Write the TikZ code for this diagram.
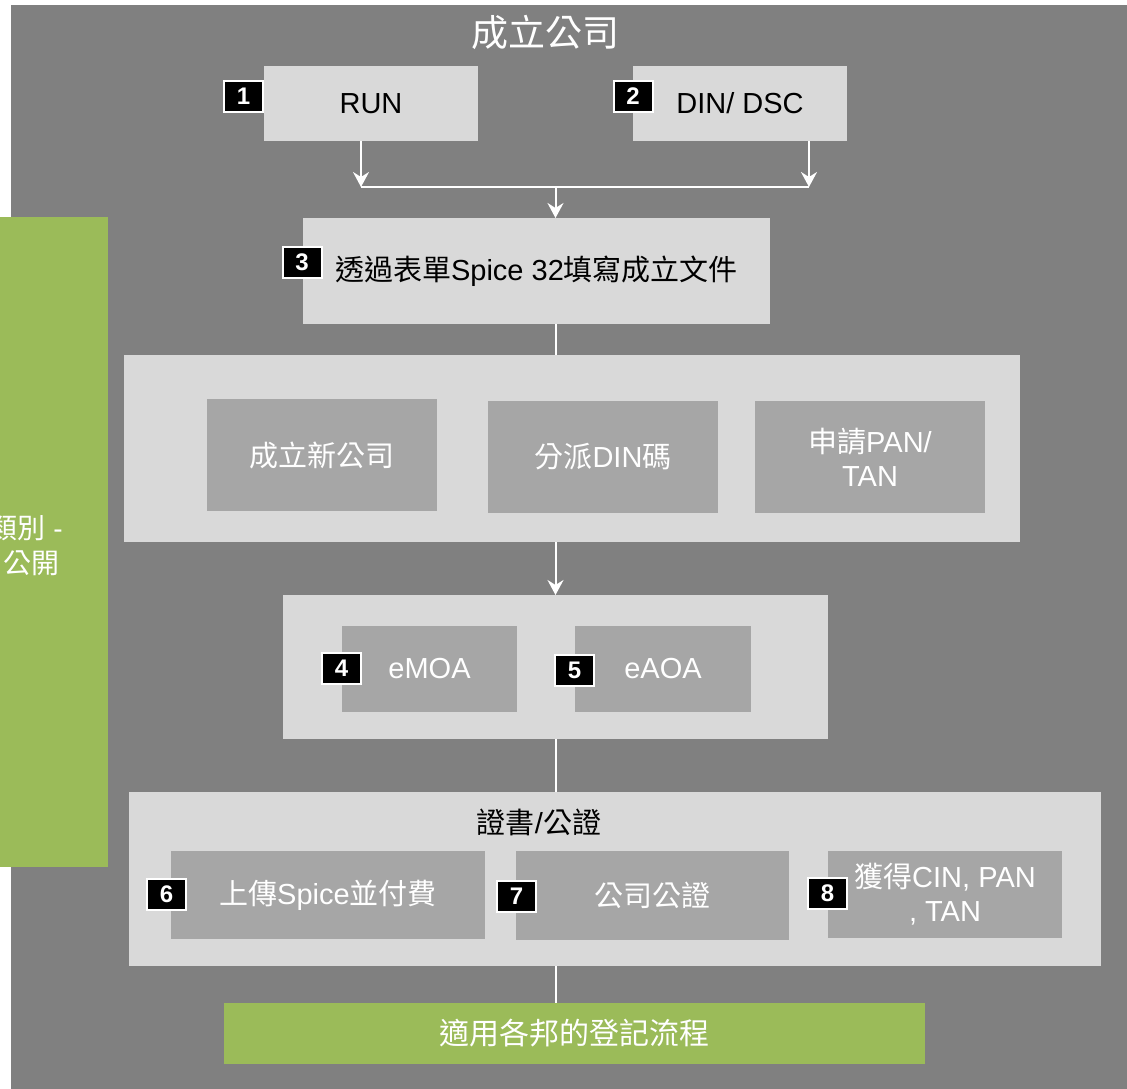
\documentclass[tikz,border=0pt]{standalone}
\usepackage{fontspec}
\setmainfont{Liberation Sans}
\newfontfamily\cjk{Noto Sans CJK TC}
\newcommand\C[1]{{\cjk #1}}
\usetikzlibrary{arrows.meta}
\definecolor{bggray}{HTML}{808080}
\definecolor{lightbox}{HTML}{D9D9D9}
\definecolor{midbox}{HTML}{A6A6A6}
\definecolor{grn}{HTML}{9BBB59}
\begin{document}
\begin{tikzpicture}[x=1pt,y=-1pt,
  lbox/.style={fill=lightbox, inner sep=0pt, outer sep=0pt, text=black, align=center},
  mbox/.style={fill=midbox, inner sep=0pt, outer sep=0pt, text=white, align=center},
  gbox/.style={fill=grn, inner sep=0pt, outer sep=0pt, text=white, align=center},
  badge/.style={fill=black, draw=white, line width=2pt, text=white, inner sep=0pt,
    minimum width=39pt, minimum height=31pt, font=\fontsize{24}{26}\selectfont\bfseries},
  conn/.style={draw=white, line width=2pt},
  arr/.style={conn, -{Stealth[length=15pt,width=16pt,inset=5pt]}},
  txt/.style={font=\fontsize{29}{34}\selectfont}
  ]
\useasboundingbox (0,0) rectangle (1127,1089);
\fill[white] (0,0) rectangle (1127,1089);
\fill[bggray] (11,5) rectangle (1140,1100);

% title
\node[text=white, font=\fontsize{37}{40}\selectfont] (title) at (545,32) {\C{成立公司}};

% left green box
\node[gbox, minimum width=158pt, minimum height=650pt, anchor=north west] (side) at (-50,217) {};
\node[text=white, align=right, inner sep=0pt, anchor=east, font=\fontsize{28}{35}\selectfont] (sidetxt) at (63,545) {\C{類別} -\\\C{公開}\kern3pt};

% step 1 and 2
\node[lbox, txt, minimum width=214pt, minimum height=75pt] (run) at (371,103.5) {RUN};
\node[lbox, txt, minimum width=214pt, minimum height=75pt] (din) at (740,103.5) {DIN/ DSC};
\node[badge] (b1) at (243.5,96.5) {1};
\node[badge] (b2) at (633,96.5) {2};

% step 3
\node[lbox, txt, minimum width=467pt, minimum height=106pt] (s3) at (536.5,271) {\C{透過表單}Spice 32\C{填寫成立文件}};
\node[badge] (b3) at (302,262.5) {3};

% group 1
\node[lbox, minimum width=896pt, minimum height=187pt] (g1) at (572,448.5) {};
\node[mbox, txt, minimum width=230pt, minimum height=112pt] (new) at (322,455) {\C{成立新公司}};
\node[mbox, txt, minimum width=230pt, minimum height=112pt] (assign) at (603,457) {\C{分派}DIN\C{碼}};
\node[mbox, txt, minimum width=230pt, minimum height=112pt] (pan) at (870,457) {\C{申請}PAN/\\TAN};

% group 2
\node[lbox, minimum width=545pt, minimum height=144pt] (g2) at (555.5,667) {};
\node[mbox, txt, minimum width=175pt, minimum height=86pt] (emoa) at (429.5,669) {eMOA};
\node[mbox, txt, minimum width=176pt, minimum height=86pt] (eaoa) at (663,669) {eAOA};
\node[badge] (b4) at (341.5,668) {4};
\node[badge] (b5) at (574.5,670.5) {5};

% group 3
\node[lbox, minimum width=972pt, minimum height=174pt] (g3) at (615,879) {};
\node[text=black, txt] (cert) at (539,822) {\C{證書}/\C{公證}};
\node[mbox, txt, minimum width=314pt, minimum height=88pt] (upload) at (328,895) {\C{上傳}Spice\C{並付費}};
\node[mbox, txt, minimum width=273pt, minimum height=89pt] (notar) at (652.5,895.5) {\C{公司公證}};
\node[mbox, txt, minimum width=234pt, minimum height=87pt] (cin) at (945,894.5) {\C{獲得}CIN, PAN\\, TAN};
\node[badge] (b6) at (166.5,894) {6};
\node[badge] (b7) at (516.5,896.5) {7};
\node[badge] (b8) at (827.5,893.5) {8};

% final
\node[gbox, minimum width=701pt, minimum height=61pt, font=\fontsize{30}{34}\selectfont] (final) at (574.5,1033.5) {\C{適用各邦的登記流程}};

% connectors
\coordinate (a1) at (361,187);
\coordinate (a2) at (809,187);
\coordinate (j) at (555.5,187);
\draw[arr] (a1 |- run.south) -- (a1);
\draw[arr] (a2 |- din.south) -- (a2);
\draw[conn] (a1) -- (a2);
\draw[arr] (j) -- (j |- s3.north);
\draw[conn] (j |- s3.south) -- (j |- g1.north);
\draw[arr] (j |- g1.south) -- (j |- g2.north);
\draw[conn] (j |- g2.south) -- (j |- g3.north);
\draw[conn] (j |- g3.south) -- (j |- final.north);
\end{tikzpicture}
\end{document}
